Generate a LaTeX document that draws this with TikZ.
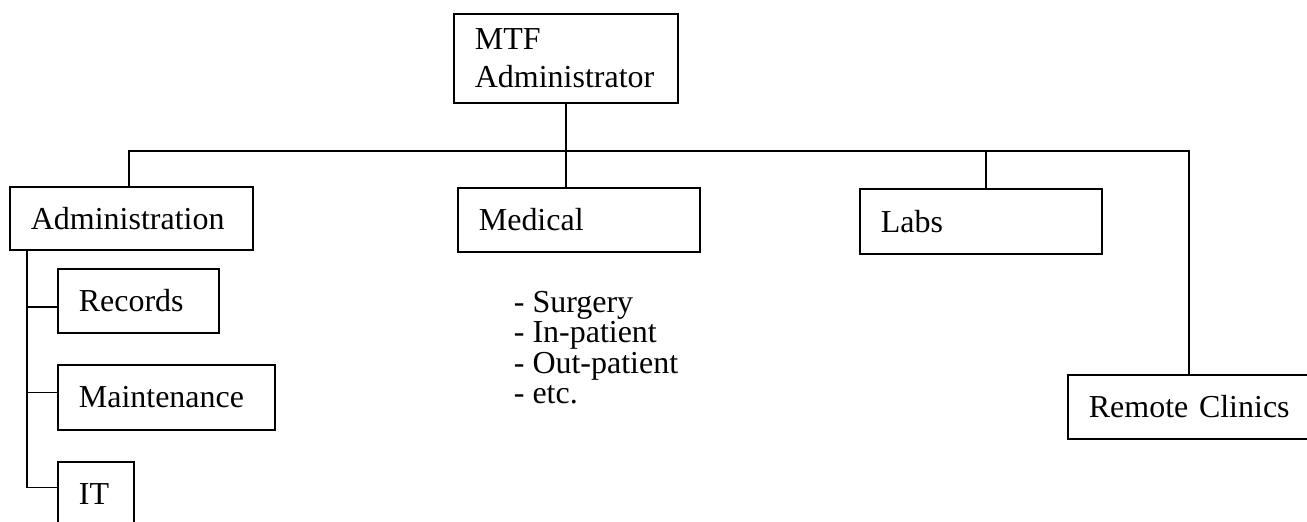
\documentclass[tikz,border=0pt]{standalone}
\usepackage{fontspec}
\setmainfont{Liberation Serif}
\usepackage{tikz}
\usetikzlibrary{positioning}

\begin{document}
\begin{tikzpicture}[x=0.02cm,y=-0.02cm,line width=1pt,
  unit box/.style={draw,anchor=north west,align=left,inner xsep=0.42cm,inner ysep=0.05cm,
    font=\fontsize{18.2}{21.6}\selectfont},
  item list/.style={anchor=north west,align=left,inner sep=0pt,
    font=\fontsize{18.2}{17.4}\selectfont}]

  \useasboundingbox (0,0) rectangle (1307,521);
  \clip (0,0) rectangle (1307,521);

  \node[unit box,text width=3.64cm,minimum height=1.78cm] (mtf) at (453,13) {MTF\\Administrator};

  \node[unit box,text width=4.02cm,minimum height=1.26cm] (administration) at (9,186) {Administration};
  \node[unit box,text width=4.00cm,minimum height=1.28cm] (medical) at (457,187) {Medical};
  \node[unit box,text width=4.00cm,minimum height=1.30cm] (labs) at (859,188) {Labs};
  \node[unit box,text width=4.06cm,minimum height=1.28cm] (remote) at (1067,374) {Remote Clinics};

  \node[unit box,text width=2.38cm,minimum height=1.28cm] (records) at (57,268) {Records};
  \node[unit box,text width=3.50cm,minimum height=1.30cm] (maintenance) at (57,364) {Maintenance};
  \node[unit box,text width=0.68cm,minimum height=1.28cm] (it) at (57,461) {IT};

  \node[item list] (medlist) at (513,290) {- Surgery\\- In-patient\\- Out-patient\\- etc.};

  \coordinate (busL) at (129,151);
  \coordinate (busR) at (1189,151);
  \coordinate (spine) at (27,249);

  \draw (administration.north -| busL) -- (busL) -- (busR) -- (busR |- remote.north);
  \draw (mtf.south) -- (mtf.south |- medical.north);
  \draw ([xshift=0.1cm]labs.north) -- ([xshift=0.1cm]labs.north |- busR);

  \draw (spine) |- ([yshift=0.13cm]it.west);
  \draw ([yshift=-0.12cm]records.west) -- ++(-30,0);
  \draw ([yshift=0.1cm]maintenance.west) -- ++(-30,0);

\end{tikzpicture}
\end{document}
